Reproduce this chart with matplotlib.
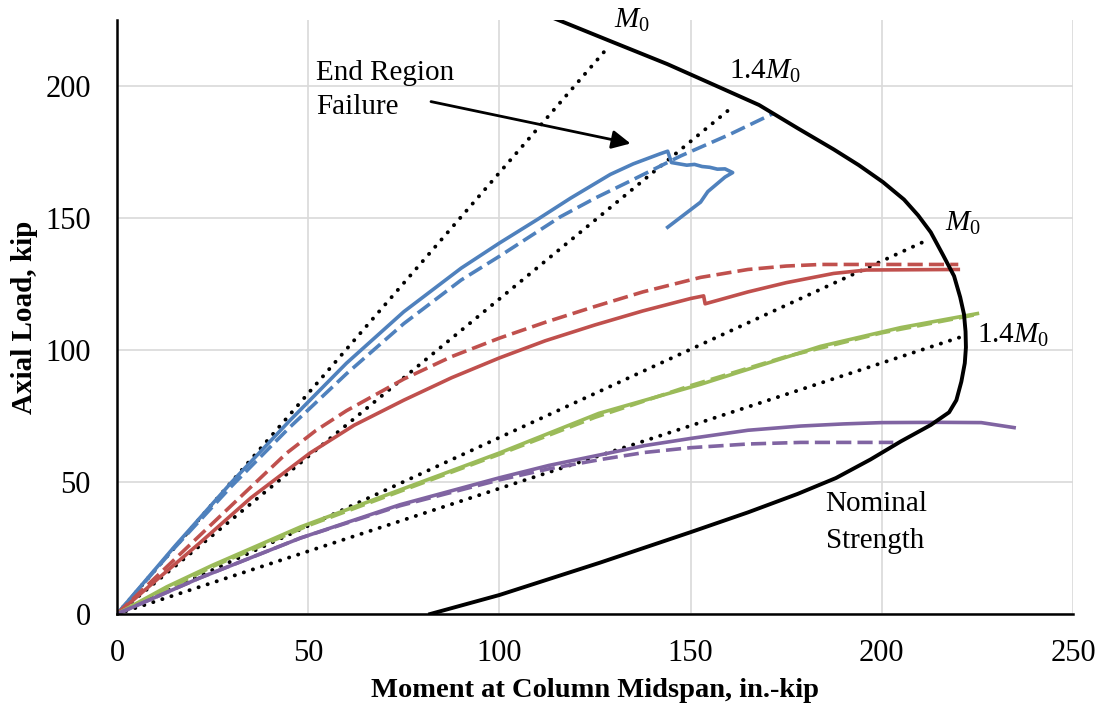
import matplotlib
matplotlib.use("Agg")
import matplotlib.pyplot as plt

plt.rcParams['font.family'] = ['Liberation Serif', 'DejaVu Serif']
plt.rcParams['mathtext.fontset'] = 'custom'
plt.rcParams['mathtext.rm'] = 'Liberation Serif'
plt.rcParams['mathtext.it'] = 'Liberation Serif:italic'

# Nominal strength interaction curve (moment, axial load)
nominal_x = [81.9, 100, 126.4, 150, 165, 178, 188, 197, 205, 212.8, 217.6, 219.5, 220.8,
             221.7, 222, 221.9, 221.5, 220.5, 218.9, 216, 212.8, 209.5, 205.8, 200.3,
             194, 187.4, 178, 167.9, 156, 143.9, 129, 114.7]
nominal_y = [0, 7.2, 19.5, 31.0, 38.5, 45.5, 51.5, 58.5, 65.4, 71.6, 76.4, 81, 88,
             95, 101, 107, 113.5, 120, 128, 136, 144.6, 151, 157, 163.6,
             170, 176, 184, 192.8, 200.5, 208.3, 217, 225.4]

# Test results (solid) and analysis (dashed)
blue_x = [0, 15, 30, 45, 60, 75, 90, 100, 110, 118.6, 129, 135, 142, 144,
          145, 147, 149, 151, 153, 155, 157, 159, 161, 159, 154.5, 152.6, 144]
blue_y = [0, 25.5, 50, 73, 95, 114.5, 131, 140.5, 149.5, 157.5, 166.5, 170.5, 174.3, 175.3,
          171, 170.5, 170, 170.3, 169.5, 169.2, 168.5, 168.6, 167.2, 165.5, 160, 156, 146.5]
blue_dash_x = [0, 15, 30, 45, 60, 75, 90, 100, 108, 116, 125, 133.5, 147.4, 160, 171.5]
blue_dash_y = [0, 25, 48.5, 70.5, 91, 110, 126.5, 135.5, 143, 150.5, 157.5, 163.5, 173.5, 181.5, 189.5]

red_x = [0, 10, 21.7, 35, 50.5, 62, 75, 87.5, 100, 112, 125, 137.5, 150, 153.4, 153.8,
         165, 175, 187.4, 196, 220]
red_y = [0, 12.5, 27, 44, 61, 71.5, 81, 89.5, 97, 103.5, 109.5, 114.8, 119.5, 120.5, 117.5,
         122, 125.5, 129, 130.3, 130.5]
red_dash_x = [0, 20, 44.4, 52, 60, 75, 87.5, 100, 112, 125, 137.5, 152.6, 165, 175, 184, 220]
red_dash_y = [0, 27.5, 61, 69.5, 77, 89, 97.5, 104.5, 110.5, 116.5, 122, 127.5, 130.5, 131.8,
              132.4, 132.4]

green_x = [0, 13, 25, 48, 74, 100, 126, 152.6, 184, 205, 225]
green_y = [0, 10.3, 18.5, 33.0, 47.0, 61.0, 76.0, 87.0, 101.4, 108.5, 113.8]
green_dash_x = [0, 25, 50, 75, 100, 125, 150, 175, 200, 225]
green_dash_y = [0, 18.0, 33.5, 47.0, 60.5, 74.5, 86.5, 97.5, 106.5, 113.5]

purple_x = [0, 21.7, 48, 74, 100, 113, 126.4, 138, 150, 165, 178.8, 190, 200, 215, 226, 234.6]
purple_y = [0, 13.7, 28.8, 41.4, 51.6, 56.3, 60.3, 63.8, 66.5, 69.6, 71.2, 72, 72.5, 72.6,
            72.5, 70.6]
purple_dash_x = [0, 21.7, 48, 74, 100, 113, 126.4, 138, 150, 165, 178.8, 203]
purple_dash_y = [0, 13.7, 28.8, 41.0, 50.8, 55, 58.5, 61.2, 63, 64.4, 65, 65.0]

# Reference moment lines from the origin
ref_end_x = [128.2, 161.3, 212.3, 220.2]
ref_end_y = [214.3, 192.5, 141.9, 104.7]

fig = plt.figure(figsize=(11.03, 7.11), dpi=100)
ax = fig.add_axes([0.1061, 0.1364, 0.8667, 0.8355])

for ex, ey in zip(ref_end_x, ref_end_y):
    ax.plot([0, ex], [0, ey], color='black', lw=2.8, linestyle=(0, (0.05, 2.4)),
            dash_capstyle='round', zorder=3)

lw = 2.6
dash = (0, (4.2, 1.7))
ax.plot(blue_x, blue_y, color='#4F81BD', lw=lw, zorder=4)
ax.plot(blue_dash_x, blue_dash_y, color='#4F81BD', lw=lw, ls=dash, zorder=4)
ax.plot(red_x, red_y, color='#C0504D', lw=lw, zorder=4)
ax.plot(red_dash_x, red_dash_y, color='#C0504D', lw=lw, ls=dash, zorder=4)
ax.plot(green_x, green_y, color='#9BBB59', lw=lw, zorder=4)
ax.plot(green_dash_x, green_dash_y, color='#9BBB59', lw=lw, ls=dash, zorder=4)
ax.plot(purple_x, purple_y, color='#8064A2', lw=lw, zorder=4)
ax.plot(purple_dash_x, purple_dash_y, color='#8064A2', lw=lw, ls=dash, zorder=4)

ax.plot(nominal_x, nominal_y, color='black', lw=2.8, zorder=5)

ax.set_xlim(0, 250)
ax.set_ylim(0, 225)
ax.set_xticks([0, 50, 100, 150, 200, 250])
ax.set_yticks([0, 50, 100, 150, 200])
ax.grid(True, color='#D9D9D9', lw=1.2)
ax.set_axisbelow(True)
for side in ['top', 'right']:
    ax.spines[side].set_visible(False)
for side in ['left', 'bottom']:
    ax.spines[side].set_linewidth(1.8)
    ax.spines[side].set_zorder(6)
ax.tick_params(length=0, labelsize=22)
ax.tick_params(axis='y', pad=19)
ax.tick_params(axis='x', pad=18)

ax.set_xlabel('Moment at Column Midspan, in.-kip', fontsize=20.5, fontweight='bold', labelpad=7)
ax.set_ylabel('Axial Load, kip', fontsize=21, fontweight='bold', labelpad=5)

tsize = 21
ax.text(134.8, 224.7, r'$M_0$', fontsize=tsize, ha='center', va='center', clip_on=False)
ax.text(169.4, 205.4, r'1.4$M_0$', fontsize=tsize, ha='center', va='center')
ax.text(221.2, 148.0, r'$M_0$', fontsize=tsize, ha='center', va='center')
ax.text(234.3, 105.5, r'1.4$M_0$', fontsize=tsize, ha='center', va='center')
ax.text(52.1, 209.8, 'End Region\nFailure', fontsize=tsize, ha='left', va='top', linespacing=1.4)
ax.text(185.3, 46.6, 'Nominal\nStrength', fontsize=tsize, ha='left', va='top', linespacing=1.55)

ax.annotate('', xy=(135, 178), xytext=(81.4, 194.3),
            arrowprops=dict(arrowstyle='-|>', color='black', lw=2, mutation_scale=28))

fig.savefig('out.png', dpi=100)
